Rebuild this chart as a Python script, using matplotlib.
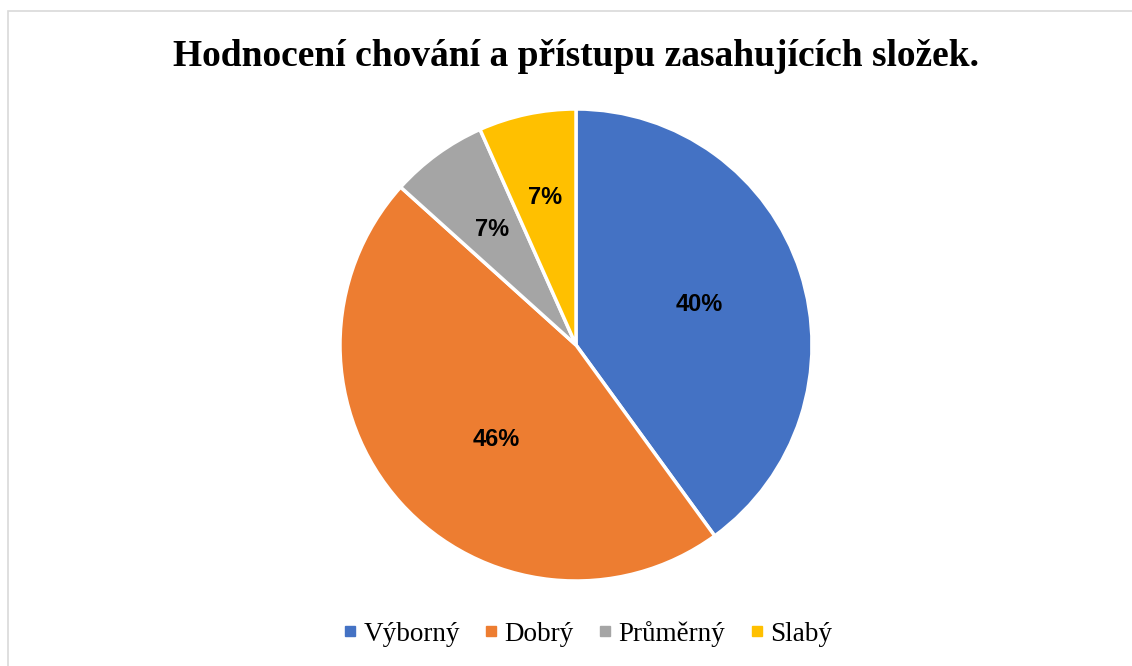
import matplotlib.pyplot as plt
from matplotlib.patches import Rectangle
from matplotlib.lines import Line2D
import numpy as np

categories = ['Výborný', 'Dobrý', 'Průměrný', 'Slabý']
counts = [6, 7, 1, 1]
pct_labels = ['40%', '46%', '7%', '7%']
title = 'Hodnocení chování a přístupu zasahujících složek.'

colors = ['#4472C4', '#ED7D31', '#A5A5A5', '#FFC000']
# label placement inside each wedge: radial distance and angular nudge (deg)
label_dist = [0.55, 0.525, 0.605, 0.64]
label_turn = [0, 8, 0, 0]

W, H = 1132, 666
fig = plt.figure(figsize=(W / 100, H / 100), dpi=100)

# light frame round the chart area
fig.patches.append(Rectangle((8 / W, -0.01), 1.2, (H - 11) / H + 0.01,
                             transform=fig.transFigure, fill=False,
                             edgecolor='#D9D9D9', linewidth=1.2))

cx, cy, r = 576, 345, 236
ax = fig.add_axes([(cx - r) / W, (H - cy - r) / H, 2 * r / W, 2 * r / H])
wedges, _ = ax.pie(counts, colors=colors, startangle=90, counterclock=False,
                   radius=1, wedgeprops=dict(edgecolor='white', linewidth=2.5))
ax.set_xlim(-1, 1)
ax.set_ylim(-1, 1)
ax.set_aspect('equal')
ax.axis('off')

for w, lab, d, t in zip(wedges, pct_labels, label_dist, label_turn):
    ang = np.deg2rad((w.theta1 + w.theta2) / 2 + t)
    ax.text(d * np.cos(ang), d * np.sin(ang), lab, ha='center', va='center',
            fontsize=17, fontweight='bold', family='Liberation Sans', color='black')

fig.text(cx / W, 1 - 57 / H, title, ha='center', va='center',
         fontsize=27, fontweight='bold', family='Liberation Serif')

handles = [Line2D([], [], marker='s', linestyle='none', markersize=7,
                  markerfacecolor=c, markeredgecolor=c) for c in colors]
fig.legend(handles, categories, loc='center', bbox_to_anchor=(587 / W, 1 - 634 / H),
           ncol=4, frameon=False, handlelength=0.6, handletextpad=0.2,
           columnspacing=0.85, prop=dict(family='Liberation Serif', size=19.5))

plt.savefig('out.png', dpi=100)
